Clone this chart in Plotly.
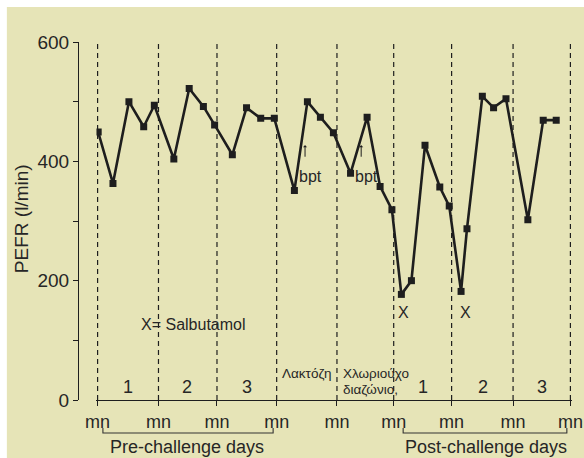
import plotly.graph_objects as go

# ---- data ----
time_days = [0.01, 0.26, 0.53, 0.78, 0.96, 1.29, 1.55, 1.79, 1.98, 2.28, 2.52, 2.76, 2.99,
             3.33, 3.55, 3.77, 3.99, 4.28, 4.56, 4.78, 4.98, 5.14, 5.31, 5.54, 5.79, 5.95,
             6.15, 6.25, 6.51, 6.70, 6.91, 7.28, 7.54, 7.76]
pefr = [449, 363, 500, 458, 494, 404, 522, 492, 461, 411, 490, 472, 472,
        351, 500, 474, 448, 380, 474, 358, 319, 177, 200, 427, 357, 325,
        182, 287, 509, 490, 505, 302, 469, 469]
midnights = [0, 1.03, 2.02, 3.03, 4.05, 5.01, 5.99, 7.03, 8.0]
midnight_labels = ["mn"] * 9
y_ticks = [0, 100, 200, 300, 400, 500, 600]
y_ticklabels = ["0", "", "200", "", "400", "", "600"]
pre_days = ["1", "2", "3"]
pre_day_x = [0.51, 1.51, 2.53]
post_days = ["1", "2", "3"]
post_day_x = [5.50, 6.52, 7.52]
salbutamol_x = [5.18, 6.22]
bpt_x = [3.61, 4.55]
bpt_arrow_x = [3.51, 4.46]

FONT = "Liberation Sans, Arial, sans-serif"
INK = "#1e1e1e"
TXT = "#262626"
PANEL = "#e6e4b7"

fig = go.Figure()
fig.add_trace(go.Scatter(
    x=time_days, y=pefr, mode="lines+markers",
    line=dict(color=INK, width=2.6),
    marker=dict(symbol="square", size=7, color=INK),
    showlegend=False, hoverinfo="skip"))

shapes = []
# panel background
shapes.append(dict(type="rect", xref="paper", yref="paper",
                   x0=-0.144, x1=1.05, y0=-0.25, y1=1.098,
                   fillcolor=PANEL, line=dict(width=0), layer="below"))
# dashed day boundaries
for m in midnights:
    shapes.append(dict(type="line", xref="x", yref="y", x0=m, x1=m, y0=0, y1=600,
                       line=dict(color=INK, width=1.2, dash="5px,4px")))
# brackets
def bracket(xa, xb):
    return dict(type="path", xref="x", yref="paper",
                path=f"M {xa},-0.078 L {xa},-0.092 L {xb},-0.092 L {xb},-0.078",
                line=dict(color="#333333", width=1.1))
shapes.append(bracket(0.09, 2.97))
shapes.append(bracket(5.17, 7.94))

ann = []
def txt(x, y, s, size, xref="x", yref="y", xanchor="center", yanchor="middle", **kw):
    ann.append(dict(x=x, y=y, text=s, xref=xref, yref=yref, showarrow=False,
                    xanchor=xanchor, yanchor=yanchor,
                    font=dict(family=FONT, size=size, color=TXT), **kw))

for s, x in zip(pre_days, pre_day_x):
    txt(x, 22, s, 18)
for s, x in zip(post_days, post_day_x):
    txt(x, 22, s, 18)
txt(3.09, 45, "Λακτόζη", 13.5, xanchor="left")
txt(4.12, 45, "Χλωριούχο", 13.5, xanchor="left")
txt(4.12, 17, "διαζώνιο,", 13.5, xanchor="left")
txt(1.63, 127, "X= Salbutamol", 16)
for x in salbutamol_x:
    txt(x, 147, "X", 16)
for x in bpt_x:
    txt(x, 374, "bpt", 16)
for x in bpt_arrow_x:
    ann.append(dict(x=x, y=427, xref="x", yref="y", text="", showarrow=True,
                    ax=0, ay=13, arrowhead=1, arrowsize=0.7, arrowwidth=1,
                    arrowcolor=INK))
txt(1.52, -0.131, "Pre-challenge days", 18, yref="paper")
txt(6.57, -0.131, "Post-challenge days", 18, yref="paper")
txt(-0.1154, 0.508, "PEFR (l/min)", 19, xref="paper", yref="paper", textangle=-90)

fig.update_layout(
    template="none",
    width=584, height=458,
    margin=dict(l=78, r=12, t=42, b=58, autoexpand=False),
    paper_bgcolor="white", plot_bgcolor="rgba(0,0,0,0)",
    shapes=shapes, annotations=ann,
    xaxis=dict(domain=[0.0374, 1], range=[-0.019, 8.027], showgrid=False, zeroline=False,
               automargin=False,
               showline=True, linecolor=INK, linewidth=1.2,
               ticks="outside", ticklen=5, tickwidth=1.2, tickcolor=INK,
               tickvals=midnights, ticktext=midnight_labels,
               tickfont=dict(family=FONT, size=18, color=TXT)),
    yaxis=dict(anchor="free", position=0, range=[0, 600], showgrid=False, zeroline=False,
               automargin=False,
               showline=True, linecolor=INK, linewidth=1.2,
               ticks="outside", ticklen=5, tickwidth=1.2, tickcolor=INK,
               tickvals=y_ticks, ticktext=y_ticklabels,
               tickfont=dict(family=FONT, size=19, color=TXT)),
)

fig.write_html("out.html")
